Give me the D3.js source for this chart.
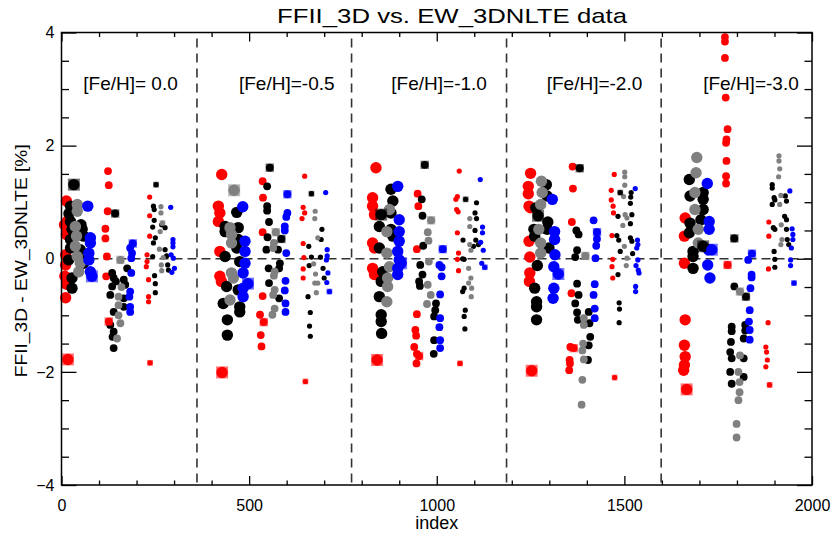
<!DOCTYPE html>
<html>
<head>
<meta charset="utf-8">
<script src="https://cdn.jsdelivr.net/npm/d3@7"></script>
<style>
  body { margin: 0; background: #fff; }
  text { font-family: "Liberation Sans", Arial, Helvetica, sans-serif; }
</style>
</head>
<body>
<svg id="drawing_region"></svg>
<script>
// [index, FFII_3D - EW_3DNLTE in %], one array per colour and symbol size
const redLarge = [[13,1.02],[15,0.66],[13,0.43],[11,0.07],[11,-0.11],[9,-0.31],[11,-0.69],[8,0.60],[14,-0.45],
  [427,1.49],[418,0.93],[422,0.81],[418,0.66],[422,0.13],[422,-0.31],[426,-0.40],
  [838,1.61],[829,1.08],[829,0.93],[834,0.78],[829,0.28],[834,0.19],[829,-0.17],[834,-0.28],
  [1250,1.51],[1244,1.28],[1244,1.15],[1246,0.93],[1250,0.90],[1246,0.31],[1248,0.03],[1248,-0.25],[1247,-0.40],
  [1662,0.72],[1660,0.40],[1660,-0.08],[1662,-1.08],[1660,-1.53],[1662,-1.73],[1660,-1.88],[1658,-1.97]];
const blackLarge = [[24,0.93],[24,0.66],[28,0.52],[55,0.52],[59,0.40],[24,0.34],[24,0.19],[19,-0.02],[55,-0.02],[50,0.16],[28,-0.34],[28,-0.52],[59,-0.08],[20,0.80],[52,0.60],
  [467,0.82],[436,0.57],[471,0.55],[436,0.48],[471,0.34],[467,0.19],[436,0.04],[475,-0.05],[440,-0.49],[471,-0.55],[431,-0.79],[475,-0.85],[475,-0.94],[442,-1.08],[442,-1.35],
  [878,1.23],[883,1.02],[878,0.81],[847,0.57],[878,0.52],[883,0.40],[847,0.19],[856,-0.23],[852,-0.40],[847,-0.67],[852,-0.99],[852,-1.11],[853,-1.32],
  [1292,1.31],[1294,1.11],[1264,0.90],[1296,0.65],[1294,0.52],[1259,0.52],[1261,0.40],[1299,0.19],[1268,-0.12],[1261,-0.52],[1266,-0.76],[1266,-0.85],[1266,-1.08],
  [1673,1.40],[1675,1.11],[1710,1.17],[1710,1.05],[1710,0.87],[1675,0.63],[1673,0.46],[1704,0.69],[1683,0.13],[1683,0.04],[1683,-0.17]];
const grayLarge = [[42,0.96],[42,0.84],[37,0.57],[37,0.22],[42,0.04],[50,-0.08],[46,-0.23],[40,0.40],
  [449,0.55],[453,0.43],[453,0.28],[453,-0.25],[458,-0.34],[449,-0.73],
  [874,0.87],[867,0.48],[867,0.10],[874,-0.14],[869,-0.34],[869,-0.49],[867,-0.76],
  [1279,1.37],[1281,1.17],[1277,0.96],[1272,0.52],[1277,0.28],[1277,0.10],
  [1693,1.79],[1691,1.52],[1688,1.17],[1688,0.87],[1697,0.52],[1697,0.28]];
const blueLarge = [[70,0.93],[77,0.37],[77,0.28],[73,0.10],[73,-0.02],[77,-0.23],
  [483,0.92],[489,0.31],[489,0.13],[489,-0.08],[484,-0.25],[484,-0.52],[484,-0.67],
  [896,1.28],[900,0.69],[900,0.48],[900,0.31],[896,0.13],[900,-0.02],[896,-0.17],[896,-0.28],
  [1308,1.05],[1314,0.48],[1314,0.34],[1315,0.07],[1312,-0.14],[1312,-0.52],[1310,-0.70],
  [1721,1.33],[1726,0.66],[1726,0.52],[1724,0.16],[1722,-0.11],[1728,-0.34]];

const redMedium = [[124,1.55],[126,1.30],[123,0.84],[117,0.53],[117,0.36],[121,0.04],[119,-0.31],
  [536,1.37],[537,1.08],[536,0.47],[536,-0.66],[529,-0.99],[531,-1.35],[533,-1.55],
  [949,1.15],[951,0.93],[947,0.17],[947,-0.98],[943,-1.26],[945,-1.36],[940,-1.56],[947,-1.68],[946,-1.85],
  [1362,1.63],[1363,1.24],[1360,0.65],[1359,-0.61],[1356,-1.56],[1354,-1.79],[1355,-1.85],[1353,-1.97],
  [1768,3.92],[1768,3.84],[1768,3.55],[1770,2.85],[1775,2.29],[1772,2.11],[1771,2.05],[1772,1.73],[1771,1.46],[1771,1.33]];
const blackMedium = [[135,-0.25],[139,-0.34],[166,-0.37],[170,-0.46],[135,-0.49],[130,-0.64],[166,-0.70],[166,-0.85],[139,-0.94],[130,-1.17],[139,-1.29],[136,-1.38],[139,-1.58],[175,-0.17],[145,-0.40],
  [548,1.28],[548,0.93],[548,0.85],[553,0.65],[549,0.38],[546,0.16],[577,0.16],[582,-0.08],[580,-0.17],[552,-0.17],[553,-0.43],[580,-0.70],
  [960,1.05],[962,0.76],[964,0.23],[956,-0.11],[962,-0.28],[953,-0.40],[955,-0.48],[998,-0.79],[996,-0.91],[993,-1.02],[993,-1.44],[992,-1.68],
  [1372,0.50],[1378,0.43],[1374,0.15],[1369,0.03],[1374,-0.44],[1378,-0.64],[1369,-0.79],[1374,-0.95],[1376,-1.08],[1405,-0.94],[1407,-1.14],[1409,-1.38],[1405,-1.53],[1403,-1.79],
  [1793,-0.49],[1786,-1.20],[1786,-1.28],[1822,-1.17],[1822,-1.27],[1818,-1.41],[1784,-1.47],[1782,-1.65],[1786,-1.76],[1818,-1.76],[1782,-2.00],[1818,-2.09],[1786,-2.21]];
const grayMedium = [[152,-0.67],[152,-0.82],[152,-1.00],[157,-1.14],[148,-1.41],[160,-0.50],
  [566,0.28],[564,0.19],[568,-0.23],[566,-0.30],[568,-0.55],[564,-0.64],[568,-0.88],[562,-0.99],
  [976,0.47],[978,0.32],[979,-0.05],[976,-0.46],[984,-0.64],[974,-0.80],
  [1392,-1.05],[1392,-1.17],[1390,-1.50],[1388,-1.62],[1392,-1.78],[1388,-2.14],[1386,-2.58],
  [1808,-1.71],[1804,-2.00],[1807,-2.18],[1807,-2.36],[1804,-2.50],[1799,-2.92],[1799,-3.16]];
const blueMedium = [[183,0.19],[188,0.10],[186,0.01],[186,-0.25],[183,-0.58],[181,-0.67],[183,-0.85],[183,-0.94],
  [602,0.81],[599,0.74],[595,0.57],[595,0.50],[599,0.10],[597,-0.39],[595,-0.56],[597,-0.79],[597,-0.94],
  [1007,-0.11],[1013,-0.15],[1013,-0.31],[1009,-0.63],[1009,-1.05],[1007,-1.21],[1009,-1.44],[1009,-1.58],
  [1418,0.68],[1427,0.35],[1425,0.23],[1423,0.01],[1421,-0.45],[1418,-0.64],[1421,-0.88],[1421,-1.05],
  [1830,-0.02],[1839,-0.28],[1839,-0.33],[1836,-0.52],[1834,-0.91],[1832,-1.11],[1834,-1.26],[1834,-1.43]];

const redSmall = [[235,1.09],[235,0.76],[235,0.40],[228,0.07],[228,-0.05],[226,-0.14],[232,-0.37],[232,-0.67],[232,-0.76],
  [648,1.46],[644,0.91],[648,0.81],[641,0.71],[644,0.27],[646,0.02],[644,-0.18],[644,-0.34],
  [1060,1.55],[1051,1.05],[1055,1.10],[1053,0.87],[1057,0.83],[1055,0.46],[1058,0.10],[1055,-0.01],[1058,-0.21],
  [1473,1.49],[1465,1.21],[1465,1.04],[1470,0.93],[1471,0.81],[1467,0.41],[1469,-0.01],[1467,-0.14],[1469,-0.34],
  [1885,0.65],[1885,0.40],[1884,-0.18],[1883,-1.13],[1877,-1.56],[1879,-1.65],[1881,-1.79],[1877,-1.91]];
const blackSmall = [[245,0.93],[247,0.87],[247,0.68],[243,0.56],[267,0.60],[276,0.55],[250,0.37],[245,0.28],[276,0.16],[243,0.04],[283,-0.11],[285,-0.20],[248,-0.30],[250,-0.44],[250,-0.60],[280,0.05],
  [694,0.52],[692,0.34],[659,0.22],[666,0.03],[690,0.03],[660,-0.12],[697,-0.17],[700,-0.34],[657,-0.67],[663,-0.95],[661,-1.19],[663,-1.37],
  [1106,0.99],[1102,0.81],[1106,0.71],[1102,0.50],[1070,0.33],[1104,0.33],[1111,0.25],[1098,0.22],[1073,-0.01],[1069,0.00],[1073,-0.52],[1069,-0.58],[1076,-0.91],[1073,-1.02],[1075,-1.24],
  [1518,1.17],[1517,1.09],[1516,0.98],[1483,0.75],[1520,0.78],[1516,0.62],[1480,0.41],[1485,0.33],[1516,0.37],[1520,0.31],[1489,0.13],[1522,0.09],[1483,-0.28],[1486,-0.78],[1487,-0.89],[1486,-1.13],
  [1894,1.31],[1894,1.25],[1899,1.08],[1901,1.04],[1894,0.96],[1929,1.11],[1932,1.02],[1927,0.75],[1932,0.69],[1897,0.55],[1901,0.52],[1932,0.52],[1934,0.34],[1899,0.13],[1901,-0.01],[1901,-0.15],[1938,0.25]];
const graySmall = [[265,0.92],[265,0.81],[263,0.48],[261,0.17],[266,-0.11],[267,-0.21],[271,0.02],
  [676,0.84],[675,0.71],[683,0.37],[672,-0.09],[677,-0.27],[675,-0.43],[683,-0.43],[679,-0.60],
  [1088,0.71],[1088,0.57],[1088,0.25],[1091,0.15],[1085,-0.17],[1091,-0.34],[1085,-0.43],[1093,-0.52],[1092,-0.67],
  [1501,1.53],[1501,1.45],[1501,1.30],[1498,1.10],[1502,0.78],[1507,0.72],[1496,0.59],[1500,0.22],[1507,0.01],[1505,-0.12],
  [1912,1.82],[1912,1.73],[1914,1.59],[1911,1.45],[1917,1.12],[1914,0.96],[1918,0.60],[1920,0.34],[1917,0.25]];
const blueSmall = [[291,0.91],[297,0.34],[297,0.28],[297,0.21],[292,0.07],[298,0.01],[301,-0.17],[294,-0.24],
  [704,1.17],[708,0.16],[706,-0.02],[708,0.05],[710,-0.25],[707,-0.42],
  [1116,1.40],[1122,0.56],[1122,0.46],[1117,0.29],[1124,0.15],[1120,-0.08],
  [1529,1.24],[1535,0.33],[1536,0.25],[1533,0.19],[1536,-0.02],[1531,-0.12],[1537,-0.20],[1539,-0.25],[1530,-0.49],[1530,-0.58],
  [1941,1.20],[1947,0.53],[1949,0.43],[1949,0.34],[1945,0.19],[1943,-0.02],[1943,-0.12]];

// boxed points: [index, value, colour]
const boxLarge = [[33,1.31,'black'],[17,-1.78,'red'],[81,-0.31,'blue'],[460,1.21,'gray'],[428,-2.01,'red'],[497,-0.44,'blue'],
  [852,0.78,'black'],[841,-1.79,'red'],[905,-0.08,'blue'],[1270,0.76,'black'],[1253,-1.98,'red'],[1324,-0.27,'blue'],
  [1710,0.22,'black'],[1666,-2.31,'red'],[1733,0.16,'blue']];
const boxMedium = [[143,0.80,'black'],[126,-1.11,'red'],[157,-0.02,'gray'],[190,0.27,'blue'],
  [555,1.61,'black'],[539,-1.12,'red'],[586,0.35,'black'],[571,0.47,'gray'],[602,1.14,'blue'],
  [968,1.66,'black'],[953,-1.72,'red'],[985,0.68,'gray'],[1016,0.17,'blue'],
  [1381,1.60,'black'],[1365,-1.58,'red'],[1396,0.05,'gray'],[1427,0.47,'blue'],
  [1793,0.36,'black'],[1824,-0.67,'black'],[1775,-0.11,'red'],[1808,-0.58,'gray'],[1840,0.09,'blue']];
const boxSmall = [[252,1.31,'black'],[236,-1.84,'red'],[269,0.63,'gray'],[666,1.15,'black'],[650,-2.17,'red'],[714,-0.58,'blue'],
  [1077,1.05,'black'],[1062,-1.85,'red'],[1128,-0.15,'blue'],[1489,1.17,'black'],[1474,-2.10,'red'],[1887,-2.23,'red'],[1952,-0.43,'blue']];

const panelEdges = [361, 773, 1186, 1598];
const fehLabels = ['[Fe/H]= 0.0', '[Fe/H]=-0.5', '[Fe/H]=-1.0', '[Fe/H]=-2.0', '[Fe/H]=-3.0'];
const fehLabelIndex = [58, 473, 879, 1293, 1710];
const xMajorTicks = [0, 500, 1000, 1500, 2000];
const yMajorTicks = [-4, -2, 0, 2, 4];

class ScatterPlot{
    constructor( config ){
        this.config = {
            parent: config.parent,
            width: config.width || 840,
            height: config.height || 542,
            margin: config.margin || {top:32.5, right:28, bottom:57, left:61.5}
        }
        this.init();
    }

    init(){
        let self = this;

        self.svg = d3.select( self.config.parent )
                     .attr('width', self.config.width)
                     .attr('height', self.config.height);

        self.chart = self.svg.append('g')
                         .attr('transform', `translate(${self.config.margin.left}, ${self.config.margin.top})`);

        self.inner_width = self.config.width - self.config.margin.left - self.config.margin.right;
        self.inner_height = self.config.height - self.config.margin.top - self.config.margin.bottom;

        self.xscale = d3.scaleLinear()
                        .domain([0, 2000])
                        .range([0, self.inner_width]);

        self.yscale = d3.scaleLinear()
                        .domain([-4, 4])
                        .range([self.inner_height, 0]);

        self.color = d3.scaleOrdinal()
                       .domain(['red', 'black', 'gray', 'blue'])
                       .range(['#ff0000', '#000000', '#808080', '#0000ff']);

        self.radius = d3.scaleOrdinal()
                        .domain(['large', 'medium', 'small'])
                        .range([5.7, 3.9, 2.6]);
    }

    render(){
        let self = this;

        self.drawAxes();

        // dashed guides
        self.chart.selectAll('.panel-edge')
                  .data(panelEdges)
                  .join('line')
                  .attr('class', 'panel-edge')
                  .attr('x1', d => self.xscale(d))
                  .attr('x2', d => self.xscale(d))
                  .attr('y1', 0)
                  .attr('y2', self.inner_height)
                  .attr('stroke', '#333')
                  .attr('stroke-width', 1.6)
                  .attr('stroke-dasharray', '9,6')
                  .attr('stroke-dashoffset', -6);

        self.chart.append('line')
                  .attr('x1', 0)
                  .attr('x2', self.inner_width)
                  .attr('y1', self.yscale(0))
                  .attr('y2', self.yscale(0))
                  .attr('stroke', '#333')
                  .attr('stroke-width', 1.6)
                  .attr('stroke-dasharray', '9,5');

        const groups = [
            ['large', [['red', redLarge], ['black', blackLarge], ['gray', grayLarge], ['blue', blueLarge]]],
            ['medium', [['red', redMedium], ['black', blackMedium], ['gray', grayMedium], ['blue', blueMedium]]],
            ['small', [['red', redSmall], ['black', blackSmall], ['gray', graySmall], ['blue', blueSmall]]]
        ];

        groups.forEach(([size, series]) => {
            series.forEach(([name, points]) => {
                self.chart.append('g')
                          .selectAll('circle')
                          .data(points)
                          .join('circle')
                          .attr('cx', d => self.xscale(d[0]))
                          .attr('cy', d => self.yscale(d[1]))
                          .attr('r', self.radius(size))
                          .attr('fill', self.color(name));
            });
        });

        [['large', boxLarge], ['medium', boxMedium], ['small', boxSmall]].forEach(([size, boxes]) => {
            let r = self.radius(size);
            let g = self.chart.append('g');
            g.selectAll('rect')
             .data(boxes)
             .join('rect')
             .attr('x', d => self.xscale(d[0]) - r - 0.3)
             .attr('y', d => self.yscale(d[1]) - r - 0.3)
             .attr('width', 2 * r + 0.6)
             .attr('height', 2 * r + 0.6)
             .attr('fill', d => self.color(d[2]))
             .attr('fill-opacity', 0.55);
            g.selectAll('circle')
             .data(boxes)
             .join('circle')
             .attr('cx', d => self.xscale(d[0]))
             .attr('cy', d => self.yscale(d[1]))
             .attr('r', r)
             .attr('fill', d => self.color(d[2]));
        });

        self.chart.selectAll('.feh')
                  .data(fehLabels)
                  .join('text')
                  .attr('class', 'feh')
                  .attr('x', (d, i) => self.xscale(fehLabelIndex[i]))
                  .attr('y', self.yscale(2.98))
                  .attr('font-size', 19)
                  .attr('fill', '#000')
                  .text(d => d);

        // frame
        self.chart.append('rect')
                  .attr('width', self.inner_width)
                  .attr('height', self.inner_height)
                  .attr('fill', 'none')
                  .attr('stroke', '#000')
                  .attr('stroke-width', 1.5);

        self.svg.append('text')
                .attr('x', 277)
                .attr('y', 23)
                .attr('font-size', 21)
                .attr('textLength', 350)
                .attr('lengthAdjust', 'spacingAndGlyphs')
                .text('FFII_3D vs. EW_3DNLTE data');

        self.svg.append('text')
                .attr('x', self.config.margin.left + self.xscale(1000))
                .attr('y', 529)
                .attr('text-anchor', 'middle')
                .attr('font-size', 18)
                .text('index');

        self.svg.append('text')
                .attr('transform', `translate(27, ${self.config.margin.top + self.yscale(0) + 2}) rotate(-90)`)
                .attr('text-anchor', 'middle')
                .attr('font-size', 17)
                .attr('textLength', 233)
                .attr('lengthAdjust', 'spacingAndGlyphs')
                .text('FFII_3D - EW_3DNLTE [%]');
    }

    drawAxes(){
        let self = this;
        const xMinor = self.xscale.ticks(20).filter(v => xMajorTicks.indexOf(v) < 0);
        const yMinor = self.yscale.ticks(16).filter(v => yMajorTicks.indexOf(v) < 0);

        const axes = [
            [d3.axisBottom(self.xscale).tickValues(xMajorTicks).tickSize(-9).tickPadding(15), `translate(0, ${self.inner_height})`, true],
            [d3.axisBottom(self.xscale).tickValues(xMinor).tickSize(-4.5), `translate(0, ${self.inner_height})`, false],
            [d3.axisTop(self.xscale).tickValues(xMajorTicks).tickSize(-9), 'translate(0, 0)', false],
            [d3.axisTop(self.xscale).tickValues(xMinor).tickSize(-4.5), 'translate(0, 0)', false],
            [d3.axisLeft(self.yscale).tickValues(yMajorTicks).tickSize(-15).tickPadding(7), 'translate(0, 0)', true],
            [d3.axisLeft(self.yscale).tickValues(yMinor).tickSize(-7.5), 'translate(0, 0)', false],
            [d3.axisRight(self.yscale).tickValues(yMajorTicks).tickSize(-15), `translate(${self.inner_width}, 0)`, false],
            [d3.axisRight(self.yscale).tickValues(yMinor).tickSize(-7.5), `translate(${self.inner_width}, 0)`, false]
        ];

        axes.forEach(([axis, tr, labelled]) => {
            axis.tickFormat(labelled ? d3.format('d') : '');
            let g = self.chart.append('g')
                        .attr('transform', tr)
                        .call(axis.tickSizeOuter(0));
            g.select('.domain').remove();
            g.selectAll('line').attr('stroke', '#000').attr('stroke-width', 1.3);
            g.selectAll('text')
             .attr('font-size', 16)
             .attr('font-family', '"Liberation Sans", Arial, sans-serif')
             .attr('fill', '#000');
        });
    }
}

const plot = new ScatterPlot({ parent: '#drawing_region' });
plot.render();
</script>
</body>
</html>
